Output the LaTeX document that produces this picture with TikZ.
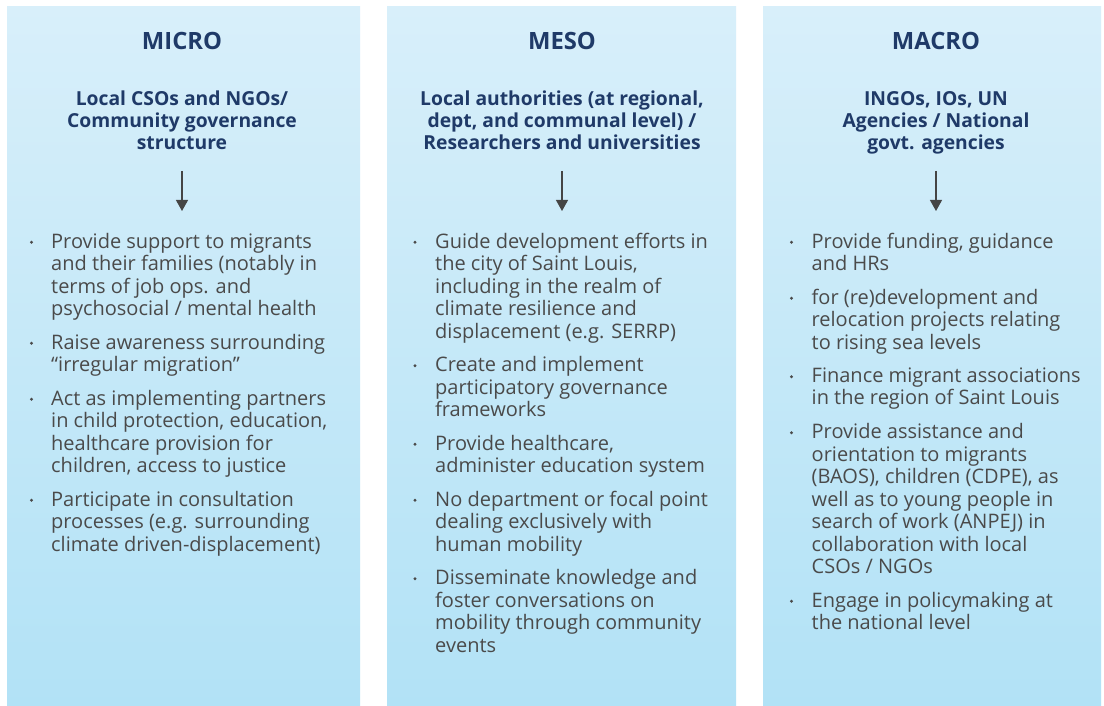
\documentclass[tikz,border=0pt]{standalone}
\usepackage{fontspec}
\setmainfont{Open Sans}
\usetikzlibrary{arrows.meta}
\definecolor{navy}{HTML}{1F3A68}
\definecolor{txt}{HTML}{4A4A4A}
\definecolor{bgtop}{RGB}{216,239,250}
\definecolor{bgbot}{RGB}{178,226,246}
\definecolor{arr}{HTML}{454545}
\newcommand{\fst}{\rule{0pt}{15pt}}
\begin{document}
\begin{tikzpicture}[x=1pt,y=-1pt,
  panel/.style={top color=bgtop,bottom color=bgbot,draw=none},
  level/.style={font=\bfseries\fontsize{23.8}{28}\selectfont,text=navy,anchor=base,inner sep=0},
  actor/.style={font=\bfseries\fontsize{19.3}{22.2}\selectfont,text=navy,align=center,anchor=north,inner sep=0},
  item/.style={font=\fontsize{20}{22.5}\selectfont,text=txt,align=left,anchor=north west,inner sep=0},
  bul/.style={fill=txt},
  flow/.style={draw=arr,line width=1.2pt,-{Triangle[length=11pt,width=12pt]}}]
\useasboundingbox (0,0) rectangle (1104,706);
\fill[white] (0,0) rectangle (1104,706);
% panels
\path[panel] (7,7) rectangle (360,706);
\path[panel] (387,7) rectangle (736,706);
\path[panel] (763,7) rectangle (1101,706);
% headings
\node[level] (h1) at (182,49.3) {MICRO};
\node[level] (h2) at (562,49.3) {MESO};
\node[level] (h3) at (936,49.3) {MACRO};
% actors
\node[actor] (a1) at (182,90.3) {\fst Local CSOs and NGOs/\\Community governance\\structure};
\node[actor] (a2) at (562,90.3) {\fst Local authorities (at regional,\\dept, and communal level) /\\Researchers and universities};
\node[actor] (a3) at (936,90.3) {\fst INGOs, IOs, UN\\Agencies / National\\govt. agencies};
% arrows
\coordinate (s1) at (182,171); \coordinate (e1) at (182,211);
\coordinate (s2) at (562,171); \coordinate (e2) at (562,211);
\coordinate (s3) at (936,171); \coordinate (e3) at (936,211);
\draw[flow] (s1) -- (e1);
\draw[flow] (s2) -- (e2);
\draw[flow] (s3) -- (e3);
% column 1 items
\foreach \y in {247.7,348.7,404.7,505.7} \fill[bul] (31.5,\y-5.5) circle (1.6);
\node[item] (m1) at (51,232.7) {\fst Provide support to migrants\\and their families (notably in\\terms of job ops. and\\psychosocial / mental health};
\node[item] (m2) at (51,333.7) {\fst Raise awareness surrounding\\“irregular migration”};
\node[item] (m3) at (51,389.7) {\fst Act as implementing partners\\in child protection, education,\\healthcare provision for\\children, access to justice};
\node[item] (m4) at (51,490.7) {\fst Participate in consultation\\processes (e.g. surrounding\\climate driven-displacement)};
% column 2 items
\foreach \y in {247.7,371.2,449.7,505.7,584.2} \fill[bul] (415,\y-5.5) circle (1.6);
\node[item] (n1) at (435,232.7) {\fst Guide development efforts in\\the city of Saint Louis,\\including in the realm of\\climate resilience and\\displacement (e.g. SERRP)};
\node[item] (n2) at (435,356.2) {\fst Create and implement\\participatory governance\\frameworks};
\node[item] (n3) at (435,434.7) {\fst Provide healthcare,\\administer education system};
\node[item] (n4) at (435,490.7) {\fst No department or focal point\\dealing exclusively with\\human mobility};
\node[item] (n5) at (435,569.2) {\fst Disseminate knowledge and\\foster conversations on\\mobility through community\\events};
% column 3 items
\foreach \y in {247.7,303.7,382.2,438.2,606.7} \fill[bul] (791.5,\y-5.5) circle (1.6);
\node[item] (k1) at (811.5,232.7) {\fst Provide funding, guidance\\and HRs};
\node[item] (k2) at (811.5,288.7) {\fst for (re)development and\\relocation projects relating\\to rising sea levels};
\node[item] (k3) at (811.5,367.2) {\fst Finance migrant associations\\in the region of Saint Louis};
\node[item] (k4) at (811.5,423.2) {\fst Provide assistance and\\orientation to migrants\\(BAOS), children (CDPE), as\\well as to young people in\\search of work (ANPEJ) in\\collaboration with local\\CSOs / NGOs};
\node[item] (k5) at (811.5,591.7) {\fst Engage in policymaking at\\the national level};
\end{tikzpicture}
\end{document}
